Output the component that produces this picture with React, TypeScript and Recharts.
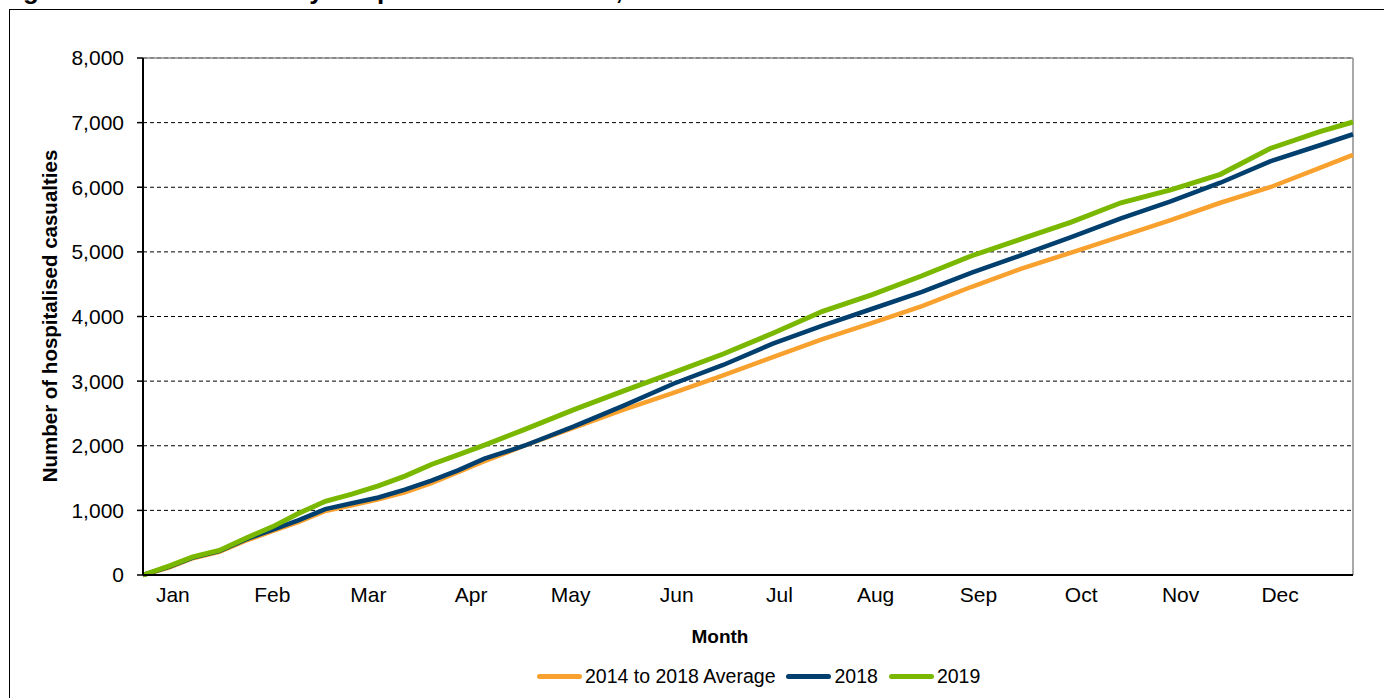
import React from "react";
import { LineChart, Line, XAxis, YAxis, CartesianGrid, Legend, ReferenceLine, Label } from "recharts";

// day of year for each reading
const DAYS = [0, 8, 15, 23, 31, 39, 47, 55, 63, 71, 79, 87, 95, 103, 115, 130, 145, 160, 175, 190, 205, 220, 235, 250, 265, 280, 295, 310, 325, 340, 355, 365];

// cumulative hospitalised casualties
const AVG_2014_2018 = [0, 120, 260, 360, 530, 680, 820, 990, 1080, 1170, 1280, 1420, 1590, 1760, 2000, 2280, 2560, 2820, 3090, 3370, 3650, 3900, 4160, 4460, 4740, 4990, 5240, 5490, 5760, 6000, 6300, 6500];
const CAS_2018 = [0, 130, 270, 370, 550, 700, 850, 1020, 1110, 1200, 1320, 1460, 1620, 1800, 2000, 2300, 2620, 2960, 3250, 3580, 3860, 4120, 4380, 4680, 4950, 5230, 5520, 5780, 6070, 6400, 6650, 6820];
const CAS_2019 = [0, 140, 280, 380, 570, 745, 955, 1140, 1250, 1380, 1530, 1710, 1860, 2010, 2250, 2560, 2850, 3130, 3420, 3740, 4080, 4340, 4630, 4940, 5200, 5460, 5760, 5960, 6200, 6600, 6860, 7010];

const MONTH_LABELS = ["Jan", "Feb", "Mar", "Apr", "May", "Jun", "Jul", "Aug", "Sep", "Oct", "Nov", "Dec"];
const MONTH_TICK_DAYS = [9, 39, 68, 99, 129, 161, 192, 221, 252, 283, 313, 343];
const Y_TICKS = [0, 1000, 2000, 3000, 4000, 5000, 6000, 7000, 8000];

const data = DAYS.map((day, i) => ({
  day,
  avg: AVG_2014_2018[i],
  y2018: CAS_2018[i],
  y2019: CAS_2019[i],
}));

const FONT = '"Liberation Sans", Arial, sans-serif';

const renderLegend = (props: any) => {
  const { payload } = props;
  return (
    <div style={{ display: "flex", alignItems: "center", fontFamily: FONT, fontSize: 19.5, color: "#000", whiteSpace: "nowrap" }}>
      {payload.map((entry: any) => (
        <div key={entry.value} style={{ display: "flex", alignItems: "center", marginRight: 11 }}>
          <span style={{ display: "inline-block", width: 45, height: 5, borderRadius: 3, background: entry.color, marginRight: 3 }} />
          <span>{entry.value}</span>
        </div>
      ))}
    </div>
  );
};

export default function App() {
  return (
    <div style={{ position: "absolute", left: 0, top: 0, width: 1384, height: 698, background: "#fff", overflow: "hidden", fontFamily: FONT }}>
      <div style={{ position: "absolute", left: 0, top: -23, fontSize: 26, lineHeight: "26px", fontWeight: "bold", whiteSpace: "nowrap", color: "#000" }}>
        Figure 4: Cumulative daily hospitalised casualties, 2019
      </div>
      <div style={{ position: "absolute", left: 9, top: 9, width: 1420, height: 740, border: "1.5px solid #000" }} />
      <LineChart
        width={1384}
        height={698}
        data={data}
        margin={{ top: 58, right: 31, bottom: 83, left: 0 }}
        style={{ position: "absolute", left: 0, top: 0 }}
      >
        <CartesianGrid vertical={false} stroke="#000" strokeDasharray="4 3" />
        <XAxis
          type="number"
          dataKey="day"
          domain={[0, 365]}
          ticks={MONTH_TICK_DAYS}
          interval={0}
          tickFormatter={(d: number) => MONTH_LABELS[MONTH_TICK_DAYS.indexOf(d)]}
          tickLine={false}
          tickSize={8}
          tickMargin={4}
          height={40}
          axisLine={{ stroke: "#000", strokeWidth: 2 }}
          tick={{ fill: "#000", fontSize: 21, fontFamily: FONT }}
        >
          <Label
            content={() => (
              <text x={720} y={643} textAnchor="middle" fontFamily={FONT} fontSize={19} fontWeight="bold" fill="#000">
                Month
              </text>
            )}
          />
        </XAxis>
        <YAxis
          domain={[0, 8000]}
          ticks={Y_TICKS}
          interval={0}
          width={143}
          tickSize={6}
          tickMargin={13}
          tickFormatter={(v: number) => v.toLocaleString("en-US")}
          axisLine={{ stroke: "#000", strokeWidth: 2 }}
          tickLine={{ stroke: "#000", strokeWidth: 1.5 }}
          tick={{ fill: "#000", fontSize: 21, fontFamily: FONT }}
        >
          <Label
            content={() => (
              <text x={57} y={316} transform="rotate(-90 57 316)" textAnchor="middle" fontFamily={FONT} fontSize={20.5} fontWeight="bold" fill="#000">
                Number of hospitalised casualties
              </text>
            )}
          />
        </YAxis>
        <ReferenceLine y={8000} stroke="#8c8c8c" strokeWidth={1.5} />
        <ReferenceLine x={365} stroke="#8c8c8c" strokeWidth={1.5} />
        <Legend
          layout="horizontal"
          verticalAlign="middle"
          align="center"
          content={renderLegend}
          wrapperStyle={{ left: 537, top: 665, width: "auto" }}
        />
        <Line type="linear" dataKey="avg" name="2014 to 2018 Average" stroke="#F9A12E" strokeWidth={4.5} dot={false} isAnimationActive={false} />
        <Line type="linear" dataKey="y2018" name="2018" stroke="#003F6E" strokeWidth={4.5} dot={false} isAnimationActive={false} />
        <Line type="linear" dataKey="y2019" name="2019" stroke="#7AB800" strokeWidth={5} dot={false} isAnimationActive={false} />
      </LineChart>
    </div>
  );
}
